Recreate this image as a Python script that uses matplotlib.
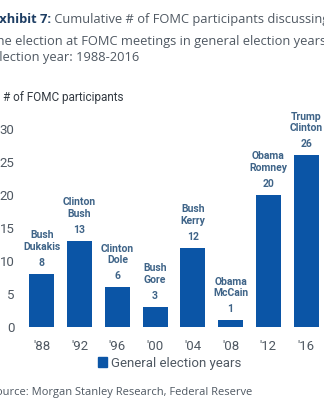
import matplotlib.pyplot as plt
from matplotlib.patches import Patch

years = ["'88", "'92", "'96", "'00", "'04", "'08", "'12", "'16"]
participants = [8, 13, 6, 3, 12, 1, 20, 26]
candidates = [
    ("Bush", "Dukakis"),
    ("Clinton", "Bush"),
    ("Clinton", "Dole"),
    ("Bush", "Gore"),
    ("Bush", "Kerry"),
    ("Obama", "McCain"),
    ("Obama", "Romney"),
    ("Trump", "Clinton"),
]

BAR = "#0b55a6"
NOTE = "#3f6488"
TEXT = "#4f5862"
HEAD = ["Open Sans", "DejaVu Sans"]

plt.rcParams["font.family"] = ["Roboto", "DejaVu Sans"]

fig = plt.figure(figsize=(3.24, 4.0), dpi=100)
ax = fig.add_axes([23 / 324, 73 / 400, 302 / 324, 198 / 400])

x = range(len(years))
ax.bar(x, participants, width=0.66, color=BAR)
ax.set_xlim(-0.5, len(years) - 0.5)
ax.set_ylim(0, 30)
ax.set_yticks([0, 5, 10, 15, 20, 25, 30])
ax.set_xticks(list(x))
ax.set_xticklabels(years)
ax.tick_params(length=0, labelsize=9.5, colors=TEXT)
ax.tick_params(axis="y", pad=6)
ax.tick_params(axis="x", pad=9)
for s in ax.spines.values():
    s.set_visible(False)

# value and candidate names stacked above each bar
for i, (v, (a, b)) in enumerate(zip(participants, candidates)):
    kw = dict(ha="center", va="center", textcoords="offset points",
              color=NOTE, fontsize=7.5, fontweight="bold", clip_on=False)
    ax.annotate(str(v), (i, v), xytext=(0, 8), **kw)
    ax.annotate(b, (i, v), xytext=(0, 19.5), **kw)
    ax.annotate(a, (i, v), xytext=(0, 28), **kw)

fig.legend(handles=[Patch(color=BAR, label="General election years")],
           loc="center", bbox_to_anchor=(170 / 324, 1 - 363 / 400),
           frameon=False, fontsize=9.5, handlelength=0.7, handleheight=0.7,
           handletextpad=0.3, labelcolor=TEXT)

fig.text(3 / 324, 1 - 98 / 400, "# of FOMC participants", fontsize=8.5,
         color="#333a42", va="center")

# header, partly running off the left edge
tx = -8 / 324
t1 = fig.text(tx, 1 - 23 / 400, "Exhibit 7:", fontsize=9.3, fontweight="bold",
              color="#1d3d63", va="baseline", family=HEAD)
ax.annotate(" Cumulative # of FOMC participants discussing", xy=(1, 0),
            xycoords=t1, va="bottom", fontsize=9.3, color=TEXT,
            family=HEAD, annotation_clip=False)
fig.text(tx, 1 - 41 / 400, "the election at FOMC meetings in general election years by",
         fontsize=9.3, color=TEXT, va="center", family=HEAD)
fig.text(tx, 1 - 58 / 400, "election year: 1988-2016",
         fontsize=9.3, color=TEXT, va="center", family=HEAD)

fig.text(-10 / 324, 1 - 392 / 400, "Source: Morgan Stanley Research, Federal Reserve",
         fontsize=8, color=TEXT, va="center", family=HEAD)

fig.savefig("out.png", dpi=100, facecolor="white")
